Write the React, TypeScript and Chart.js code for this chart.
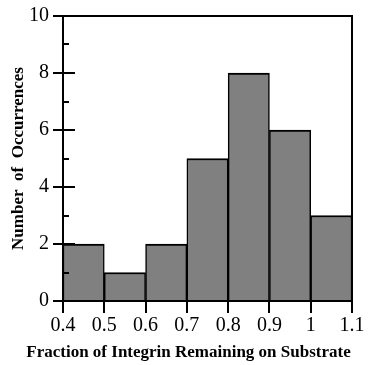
import React, { useEffect, useRef } from "react";
import { Chart, registerables } from "chart.js";

Chart.register(...registerables);

const binStarts = [0.4, 0.5, 0.6, 0.7, 0.8, 0.9, 1.0];
const binWidth = 0.1;
const counts = [2, 1, 2, 5, 8, 6, 3];
const xTickValues = [0.4, 0.5, 0.6, 0.7, 0.8, 0.9, 1.0, 1.1];
const yMajorTicks = [0, 2, 4, 6, 8, 10];
const yMinorTicks = [1, 3, 5, 7, 9];
const xTitle = "Fraction of Integrin Remaining on Substrate";
const yTitle = "Number  of  Occurrences";

const FONT = "'Liberation Serif', 'Times New Roman', serif";

const framePlugin = {
  id: "frameTicks",
  afterDraw(chart: any) {
    const { ctx, chartArea, scales } = chart;
    const { left, right, top, bottom } = chartArea;
    const x = scales.x;
    const y = scales.y;
    ctx.save();
    ctx.strokeStyle = "#000";
    ctx.lineWidth = 2;
    ctx.lineCap = "butt";
    ctx.beginPath();
    ctx.moveTo(left, bottom + 1);
    ctx.lineTo(left, top);
    ctx.lineTo(right, top);
    ctx.lineTo(right, bottom);
    ctx.lineTo(left - 1, bottom);
    ctx.stroke();
    ctx.beginPath();
    for (const v of xTickValues) {
      const px = Math.round(x.getPixelForValue(v));
      ctx.moveTo(px, bottom);
      ctx.lineTo(px, bottom + 12);
    }
    for (const v of yMajorTicks) {
      const py = Math.round(y.getPixelForValue(v));
      ctx.moveTo(left - 10, py);
      ctx.lineTo(left + 12, py);
    }
    for (const v of yMinorTicks) {
      const py = Math.round(y.getPixelForValue(v));
      ctx.moveTo(left, py);
      ctx.lineTo(left + 6, py);
    }
    ctx.stroke();
    // x-axis title (drawn here so it may be wider than the plot area)
    ctx.fillStyle = "#000";
    ctx.font = `bold 17px ${FONT}`;
    ctx.textAlign = "center";
    ctx.textBaseline = "middle";
    ctx.fillText(xTitle, chart.width / 2, chart.height - 12);
    ctx.restore();
  },
};

export default function App() {
  const ref = useRef<HTMLCanvasElement | null>(null);

  useEffect(() => {
    document.body.style.margin = "0";
    const canvas = ref.current;
    if (!canvas) return;
    const chart = new Chart(canvas, {
      type: "bar",
      data: {
        datasets: [
          {
            data: binStarts.map((s, i) => ({ x: s + binWidth / 2, y: counts[i] })),
            backgroundColor: "#808080",
            borderColor: "#000",
            borderWidth: { top: 2, left: 1.5, right: 1.5, bottom: 0 },
            borderSkipped: false,
            barPercentage: 1,
            categoryPercentage: 1,
          },
        ],
      },
      options: {
        animation: false,
        responsive: false,
        maintainAspectRatio: false,
        layout: { padding: { top: 14, right: 25, left: 0, bottom: 0 } },
        plugins: {
          legend: { display: false },
          tooltip: { enabled: false },
        },
        scales: {
          x: {
            type: "linear",
            min: 0.4,
            max: 1.1,
            offset: false,
            grid: { display: false, drawTicks: true, tickLength: 10, offset: false },
            border: { display: false },
            afterBuildTicks: (s: any) => {
              s.ticks = xTickValues.map((v) => ({ value: v }));
            },
            afterFit: (s: any) => {
              s.height = 64;
            },
            ticks: {
              autoSkip: false,
              maxRotation: 0,
              padding: 3,
              color: "#000",
              font: { family: FONT, size: 20 },
              callback: (v: any) => String(Number(Number(v).toFixed(1))),
            },
            title: { display: false },
          },
          y: {
            min: 0,
            max: 10,
            grid: { display: false, drawTicks: true, tickLength: 10 },
            border: { display: false },
            afterBuildTicks: (s: any) => {
              s.ticks = yMajorTicks.map((v) => ({ value: v }));
            },
            afterFit: (s: any) => {
              s.width = 63;
            },
            ticks: {
              padding: 4,
              color: "#000",
              font: { family: FONT, size: 20 },
            },
            title: {
              display: true,
              text: yTitle,
              color: "#000",
              font: { family: FONT, size: 17, weight: "bold" },
              padding: { top: 8, bottom: 0 },
            },
          },
        },
      },
      plugins: [framePlugin],
    } as any);
    return () => chart.destroy();
  }, []);

  return (
    <div style={{ width: 377, height: 365, background: "#fff" }}>
      <canvas ref={ref} width={377} height={365} style={{ display: "block" }} />
    </div>
  );
}
